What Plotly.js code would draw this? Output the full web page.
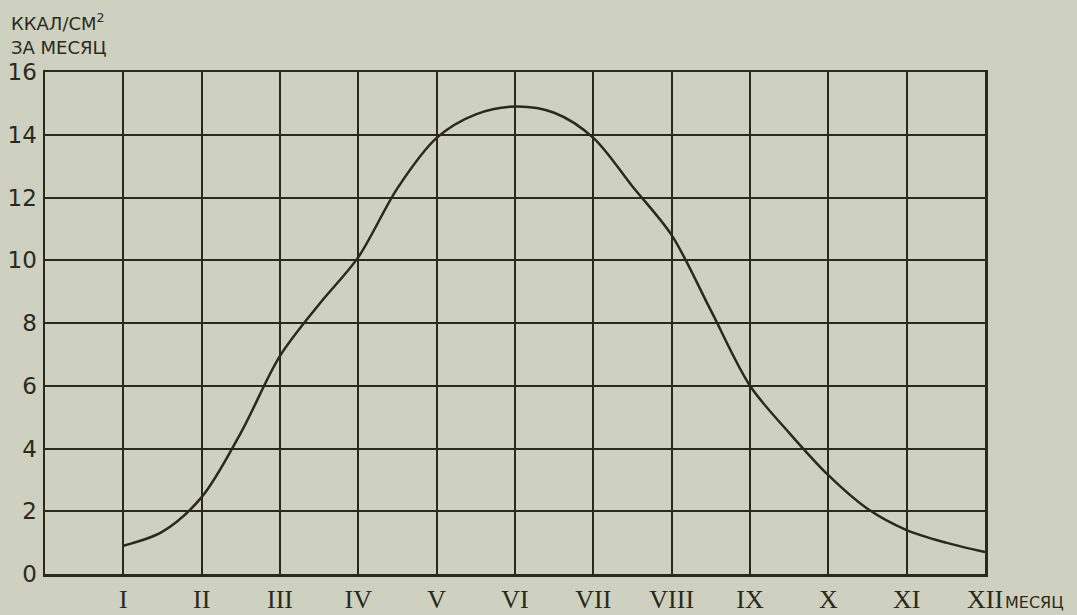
<!DOCTYPE html>
<html>
<head>
<meta charset="utf-8">
<script src="https://cdn.plot.ly/plotly-3.0.1.min.js"></script>
<style>
  html, body { margin: 0; padding: 0; background: #cfd1c0; }
  #chart { width: 1077px; height: 615px; }
</style>
</head>
<body>
<div id="chart"></div>
<script>
// Month positions (1 = I ... 12 = XII), including half-month readings
const months = [1, 1.5, 2, 2.5, 3, 3.5, 4, 4.5, 5, 5.5, 6, 6.5, 7, 7.5, 8, 8.5, 9, 9.5, 10, 10.5, 11, 11.5, 12];
// Radiation, kcal/cm² per month
const radiation = [0.9, 1.35, 2.45, 4.5, 6.95, 8.6, 10.1, 12.3, 13.9, 14.65, 14.9, 14.7, 13.9, 12.35, 10.8, 8.4, 6.0, 4.5, 3.15, 2.08, 1.4, 1.0, 0.7];

const monthTickVals = [1, 2, 3, 4, 5, 6, 7, 8, 9, 10, 11, 12];
const monthTickText = ['I', 'II', 'III', 'IV', 'V', 'VI', 'VII', 'VIII', 'IX', 'X', 'XI', 'XII'];
const yTickVals = [0, 2, 4, 6, 8, 10, 12, 14, 16];

const ink = '#2a2a1c';
const paper = '#cfd1c0';

const trace = {
  x: months,
  y: radiation,
  type: 'scatter',
  mode: 'lines',
  line: { shape: 'spline', smoothing: 0.9, color: ink, width: 2.5 },
  hoverinfo: 'x+y'
};

const layout = {
  width: 1077,
  height: 615,
  paper_bgcolor: paper,
  plot_bgcolor: paper,
  showlegend: false,
  margin: { l: 45, r: 92, t: 72, b: 41 },
  xaxis: {
    range: [0, 12],
    tickvals: monthTickVals,
    ticktext: monthTickText,
    showgrid: true,
    gridcolor: ink,
    gridwidth: 2,
    zeroline: false,
    showline: true,
    linecolor: ink,
    linewidth: 2.5,
    mirror: true,
    ticks: '',
    ticklabelstandoff: 0,
    tickfont: { family: 'Liberation Serif, DejaVu Serif, serif', size: 26, color: ink },
    fixedrange: true
  },
  yaxis: {
    range: [0, 16],
    tickvals: yTickVals,
    ticktext: yTickVals.map(String),
    showgrid: true,
    gridcolor: ink,
    gridwidth: 2,
    zeroline: false,
    showline: true,
    linecolor: ink,
    linewidth: 2.5,
    mirror: true,
    ticks: '',
    ticklabelstandoff: 1,
    tickfont: { family: 'DejaVu Sans, Liberation Sans, sans-serif', size: 23, color: ink },
    fixedrange: true
  },
  annotations: [
    {
      text: 'ККАЛ/СМ<sup>2</sup>', xref: 'paper', yref: 'paper', x: -0.038, y: 1.0, yshift: 50,
      xanchor: 'left', yanchor: 'middle', showarrow: false,
      font: { family: 'DejaVu Sans, sans-serif', size: 18, color: ink }
    },
    {
      text: 'ЗА МЕСЯЦ', xref: 'paper', yref: 'paper', x: -0.038, y: 1.0, yshift: 25,
      xanchor: 'left', yanchor: 'middle', showarrow: false,
      font: { family: 'DejaVu Sans, sans-serif', size: 18, color: ink }
    },
    {
      text: 'МЕСЯЦ', xref: 'paper', yref: 'paper', x: 1.0, xshift: 18, y: 0, yshift: -28,
      xanchor: 'left', yanchor: 'middle', showarrow: false,
      font: { family: 'DejaVu Sans, sans-serif', size: 16, color: ink }
    }
  ]
};

Plotly.newPlot('chart', [trace], layout, { displayModeBar: false, staticPlot: true });
</script>
</body>
</html>
